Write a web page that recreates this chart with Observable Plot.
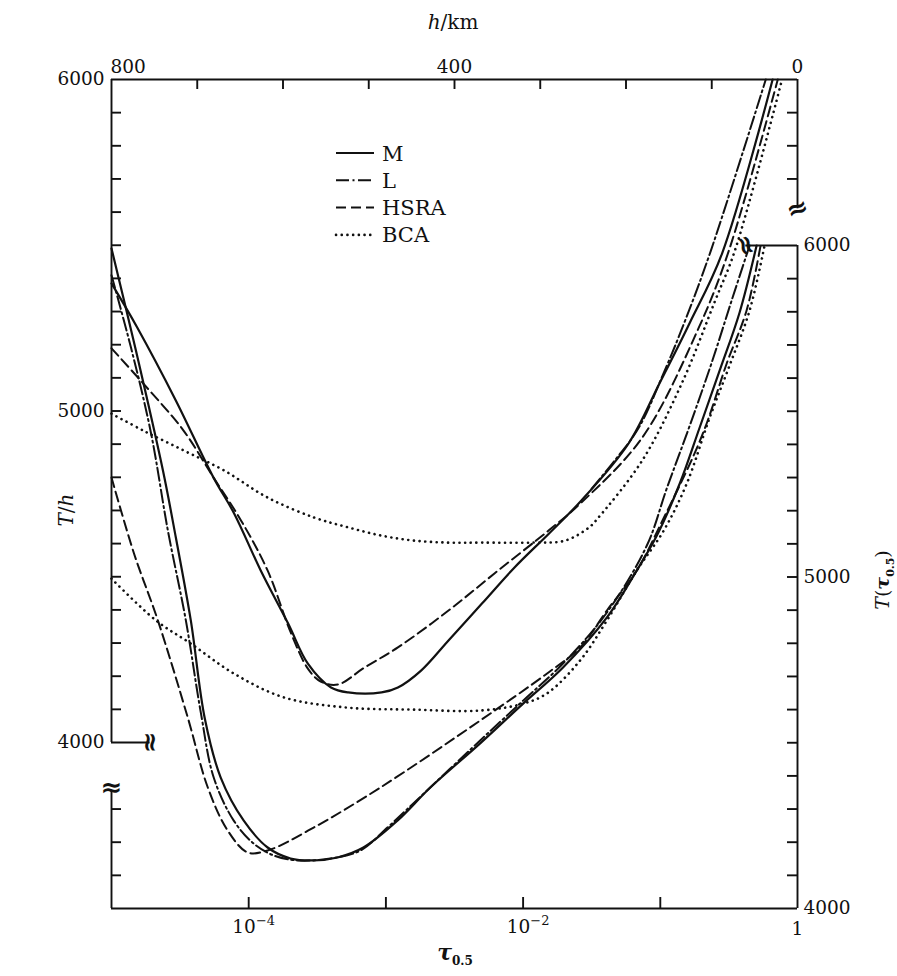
<!DOCTYPE html>
<html><head><meta charset="utf-8">
<script src="https://cdn.jsdelivr.net/npm/d3@7"></script>
<script src="https://cdn.jsdelivr.net/npm/@observablehq/plot@0.6"></script>
<style>
html,body{margin:0;padding:0;background:#fff;}
#wrap{position:relative;width:897px;height:976px;overflow:hidden;background:#fff;}
</style></head><body><div id="wrap"></div>
<script>
// ===== Upper family: temperature T against height h (top axis h/km, left axis T/h) =====
const M_h   = [800,770,725,681,657,626,594,571,544,524,485,466,439,407,368,330,290,252,197,161,126,88,29];
const M_Th  = [5385,5252,5032,4799,4691,4519,4359,4238,4166,4151,4151,4166,4217,4308,4419,4528,4630,4730,4902,5083,5264,5475,6000];
const L_h   = [240,213,185,156,131,101,37];
const L_Th  = [4766,4851,4950,5115,5273,5484,6000];
const HSRA_h  = [800,763,716,681,649,618,591,571,556,536,505,466,407,349,290,252,181,115,80,23];
const HSRA_Th = [5189,5083,4941,4799,4670,4519,4332,4223,4184,4175,4226,4287,4398,4519,4640,4724,4920,5252,5484,6000];
const BCA_h   = [800,763,716,669,618,564,524,485,447,407,368,310,271,243,232,181,135,96,73,18];
const BCA_Th  = [4992,4941,4881,4821,4739,4679,4649,4624,4609,4603,4603,4603,4609,4649,4679,4851,5083,5333,5484,6000];

// ===== Lower family: temperature T against optical depth tau_0.5 (bottom axis, right axis) =====
// values are log10(tau)
const M_lgTau = [-5.0,-4.822,-4.625,-4.531,-4.422,-4.320,-4.204,-4.036,-3.862,-3.695,-3.527,-3.353,-3.164,-2.916,-2.676,-2.313,-2.000,-1.709,-1.389,-1.171,-1.025,-0.858,-0.713,-0.567,-0.422,-0.298];
const M_Ttau  = [5991,5683,5321,5119,4869,4573,4395,4265,4184,4151,4145,4154,4184,4265,4365,4498,4618,4727,4878,5020,5125,5282,5451,5623,5798,6000];
const L_lgTau = [-5.0,-4.858,-4.713,-4.589,-4.458,-4.349,-4.255,-4.109,-3.964,-3.818,-3.644,-3.404,-3.185,-2.989,-2.800,-2.313,-2.000,-1.709,-1.389,-1.098,-0.953,-0.785,-0.625,-0.480,-0.349];
const L_Ttau  = [5910,5692,5436,5140,4869,4591,4395,4265,4196,4160,4145,4151,4175,4244,4317,4507,4627,4739,4893,5095,5267,5457,5647,5834,6000];
const HSRA_lgTau = [-5.0,-4.836,-4.662,-4.444,-4.298,-4.153,-4.007,-3.862,-3.527,-3.040,-2.313,-1.825,-1.585,-1.389,-1.171,-0.967,-0.764,-0.662,-0.516,-0.371,-0.269];
const HSRA_Ttau  = [5300,5071,4869,4576,4365,4235,4169,4175,4244,4365,4567,4709,4787,4899,5020,5185,5360,5463,5644,5804,6000];
const BCA_lgTau = [-5.0,-4.676,-4.422,-4.109,-3.745,-3.280,-2.800,-2.313,-2.000,-1.825,-1.585,-1.389,-1.171,-0.975,-0.807,-0.640,-0.495,-0.349,-0.240];
const BCA_Ttau  = [4995,4869,4799,4709,4637,4606,4600,4597,4618,4649,4748,4869,5020,5140,5282,5481,5638,5804,6000];

// ===== Axes: ticks, labels, extents =====
const hTicks = [700,600,500,400,300,200,100];
const hLabelsMid = [400,0];
const hLabelsStart = [800];
const ThTicks = [4100,4200,4300,4400,4500,4600,4700,4800,4900,5000,5100,5200,5300,5400,5500,5600,5700,5800,5900];
const ThLabels = [6000,5000,4000];
const ThRightTicks = [5700,5800,5900];
const hDomain = [800,0];
const TDomain = [4000,6000];
const hRightAxisBreak = 5610;   // upper right axis stops here
const hBottomBreak = 755;       // h/T 4000 stub ends here
const tauTicks = [1e-4,1e-3,1e-2,1e-1];
const tauPowLabels = [1e-4,1e-2];
const tauPowText = ["10^-4","10^-2"];
const tauOneLabel = [1];
const TtauTicks = [4100,4200,4300,4400,4500,4600,4700,4800,4900,5000,5100,5200,5300,5400,5500,5600,5700,5800,5900];
const TtauLabels = [6000,5000,4000];
const TtauLeftTicks = [4100,4200,4300];
const tauDomain = [1e-5,1];
const tauLeftBreak = 4355;      // lower left axis stops here
const tauTopBreak = 0.42;       // T(tau) 6000 stub starts here

// ===== Legend =====
const models = ["M","L","HSRA","BCA"];
const styleOf = {
  M:    {strokeWidth: 2.2},
  L:    {strokeWidth: 2, strokeDasharray: "13,3.5,2,3.5"},
  HSRA: {strokeWidth: 2, strokeDasharray: "10,5"},
  BCA:  {strokeWidth: 2.6, strokeDasharray: "0.1,5.6", strokeLinecap: "round"}
};

const ink = "#111";
const serif = "'DejaVu Serif', 'Liberation Serif', serif";
const zip = (xs, ys) => xs.map((v, i) => ({x: v, T: ys[i]}));
const hSeries = {M: zip(M_h, M_Th), L: zip(L_h, L_Th), HSRA: zip(HSRA_h, HSRA_Th), BCA: zip(BCA_h, BCA_Th)};
const tauSeries = {
  M: zip(M_lgTau.map(v => 10 ** v), M_Ttau),
  L: zip(L_lgTau.map(v => 10 ** v), L_Ttau),
  HSRA: zip(HSRA_lgTau.map(v => 10 ** v), HSRA_Ttau),
  BCA: zip(BCA_lgTau.map(v => 10 ** v), BCA_Ttau)
};
const svgStyle = {position: "absolute", left: "0px", top: "0px", background: "transparent", overflow: "visible"};
const lbl = {fontFamily: serif, fontSize: 18.5, fill: ink};
const brk = {fontFamily: "'DejaVu Sans', sans-serif", fontSize: 26, fill: ink, fontWeight: "bold"};
const ax = {stroke: ink, strokeWidth: 1.9};

const plotH = Plot.plot({
  width: 897, height: 976,
  marginLeft: 111, marginRight: 100, marginTop: 79, marginBottom: 234,
  style: svgStyle,
  x: {type: "linear", domain: hDomain, axis: null},
  y: {type: "linear", domain: TDomain, axis: null},
  marks: [
    ...models.map(m => Plot.line(hSeries[m], {x: "x", y: "T", curve: "catmull-rom", stroke: ink, ...styleOf[m]})),
    Plot.ruleX([hDomain[0]], {x: d => d, y1: TDomain[0], y2: TDomain[1], ...ax}),
    Plot.ruleY([TDomain[1]], {y: d => d, x1: hDomain[0], x2: hDomain[1], ...ax}),
    Plot.ruleX([hDomain[1]], {x: d => d, y1: hRightAxisBreak, y2: TDomain[1], ...ax}),
    Plot.ruleY([TDomain[0]], {y: d => d, x1: hDomain[0], x2: hBottomBreak, ...ax}),
    Plot.ruleX(hTicks, {x: d => d, y1: TDomain[1], y2: TDomain[1], insetBottom: -10, ...ax}),
    Plot.ruleY(ThTicks, {y: d => d, x1: hDomain[0], x2: hDomain[0], insetRight: -10, ...ax}),
    Plot.ruleY(ThRightTicks, {y: d => d, x1: hDomain[1], x2: hDomain[1], insetRight: 10, ...ax}),
    Plot.text(hLabelsMid, {x: d => d, y: TDomain[1], text: d => String(d), dy: -12, textAnchor: "middle", ...lbl}),
    Plot.text(hLabelsStart, {x: d => d, y: TDomain[1], text: d => String(d), dy: -12, dx: -1, textAnchor: "start", ...lbl}),
    Plot.text(ThLabels, {x: hDomain[0], y: d => d, text: d => String(d), dx: -7, textAnchor: "end", ...lbl}),
    Plot.text([hRightAxisBreak], {x: hDomain[1], y: d => d, text: () => "≈", rotate: -20, ...brk}),
    Plot.text([hBottomBreak], {x: d => d, y: TDomain[0], text: () => "≈", rotate: 90, ...brk})
  ]
});

const plotT = Plot.plot({
  width: 897, height: 976,
  marginLeft: 111, marginRight: 100, marginTop: 245, marginBottom: 68,
  style: svgStyle,
  x: {type: "log", domain: tauDomain, axis: null},
  y: {type: "linear", domain: TDomain, axis: null},
  marks: [
    ...models.map(m => Plot.line(tauSeries[m], {x: "x", y: "T", curve: "catmull-rom", stroke: ink, ...styleOf[m]})),
    Plot.ruleY([TDomain[0]], {y: d => d, x1: tauDomain[0], x2: tauDomain[1], ...ax}),
    Plot.ruleX([tauDomain[1]], {x: d => d, y1: TDomain[0], y2: TDomain[1], ...ax}),
    Plot.ruleX([tauDomain[0]], {x: d => d, y1: TDomain[0], y2: tauLeftBreak, ...ax}),
    Plot.ruleY([TDomain[1]], {y: d => d, x1: tauTopBreak, x2: tauDomain[1], ...ax}),
    Plot.ruleX(tauTicks, {x: d => d, y1: TDomain[0], y2: TDomain[0], insetBottom: 11, ...ax}),
    Plot.ruleY(TtauTicks, {y: d => d, x1: tauDomain[1], x2: tauDomain[1], insetRight: 10, ...ax}),
    Plot.ruleY(TtauLeftTicks, {y: d => d, x1: tauDomain[0], x2: tauDomain[0], insetRight: -10, ...ax}),
    Plot.text(tauPowLabels, {x: d => d, y: TDomain[0], text: (d, i) => tauPowText[i], dy: 19, dx: 5, textAnchor: "middle", ...lbl}),
    Plot.text(tauOneLabel, {x: d => d, y: TDomain[0], text: d => String(d), dy: 21, textAnchor: "middle", ...lbl}),
    Plot.text(TtauLabels, {x: tauDomain[1], y: d => d, text: d => String(d), dx: 6, textAnchor: "start", ...lbl}),
    Plot.text([tauLeftBreak], {x: tauDomain[0], y: d => d, text: () => "≈", dy: -3, ...brk}),
    Plot.text([tauTopBreak], {x: d => d, y: TDomain[1], text: () => "≈", rotate: 70, ...brk})
  ]
});

// superscripts for 10^-n labels
d3.select(plotT).selectAll("text").each(function() {
  const s = this.textContent;
  const m = /^10\^(-?\d+)$/.exec(s);
  if (m) {
    const t = d3.select(this);
    t.text("");
    t.append("tspan").text("10");
    t.append("tspan").attr("dy", -8).attr("font-size", 13).text(m[1].replace("-", "−"));
  }
});

const wrap = document.getElementById("wrap");
wrap.appendChild(plotH);
wrap.appendChild(plotT);

// ===== Titles and legend overlay =====
const ov = d3.create("svg").attr("width", 897).attr("height", 976)
  .style("position", "absolute").style("left", "0px").style("top", "0px")
  .attr("font-family", serif).attr("fill", ink);

const tTop = ov.append("text").attr("x", 453).attr("y", 29).attr("text-anchor", "middle").attr("font-size", 20);
tTop.append("tspan").attr("font-style", "italic").text("h");
tTop.append("tspan").text("/km");

const tLeft = ov.append("text").attr("transform", "translate(73,510) rotate(-90)").attr("text-anchor", "middle").attr("font-size", 20);
tLeft.append("tspan").attr("font-style", "italic").text("T");
tLeft.append("tspan").text("/");
tLeft.append("tspan").attr("font-style", "italic").text("h");

const tRight = ov.append("text").attr("transform", "translate(889,580) rotate(-90)").attr("text-anchor", "middle").attr("font-size", 19);
tRight.append("tspan").attr("font-style", "italic").text("T");
tRight.append("tspan").text("(");
tRight.append("tspan").attr("font-style", "italic").attr("font-weight", "bold").text("τ");
tRight.append("tspan").attr("font-size", 11).attr("dy", 5).attr("font-weight", "bold").text("0.5");
tRight.append("tspan").attr("dy", -5).text(")");

const tBot = ov.append("text").attr("x", 455).attr("y", 960).attr("text-anchor", "middle").attr("font-size", 22);
tBot.append("tspan").attr("font-style", "italic").attr("font-weight", "bold").text("τ");
tBot.append("tspan").attr("font-size", 12).attr("dy", 5).attr("font-weight", "bold").text("0.5");

const legX1 = 336, legX2 = 374, legTextX = 382, legY0 = 153, legDY = 27.3;
models.forEach((m, i) => {
  const y = legY0 + i * legDY;
  const st = styleOf[m];
  const ln = ov.append("line").attr("x1", legX1).attr("x2", legX2).attr("y1", y).attr("y2", y)
    .attr("stroke", ink).attr("stroke-width", st.strokeWidth);
  if (st.strokeDasharray) ln.attr("stroke-dasharray", st.strokeDasharray);
  if (st.strokeLinecap) ln.attr("stroke-linecap", st.strokeLinecap);
  ov.append("text").attr("x", legTextX).attr("y", y + 7.5).attr("font-size", 21).text(m);
});
wrap.appendChild(ov.node());
</script></body></html>
